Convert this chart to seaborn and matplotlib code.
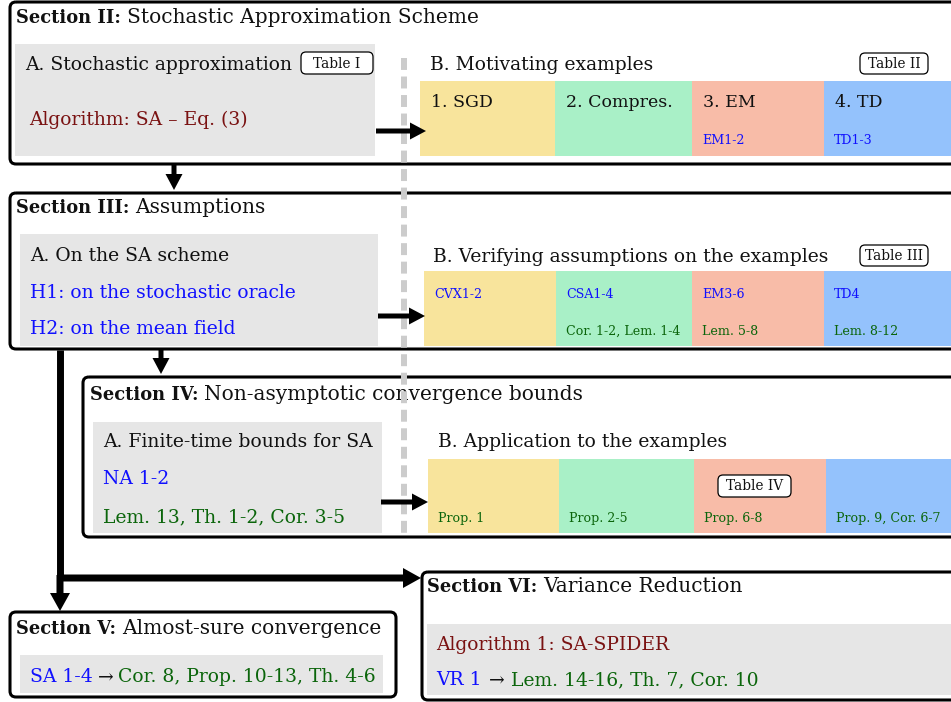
"""
Paper roadmap diagram (sections II-VI) redrawn with matplotlib / seaborn.
"""

import matplotlib.pyplot as plt
import seaborn as sns
from matplotlib.patches import FancyBboxPatch, Rectangle

sns.set_theme(style="white")
plt.rcParams["font.family"] = ["DejaVu Serif", "DejaVu Sans"]

# ── Content ────────────────────────────────────────────────────────────────
SECTION_NUMS  = ["Section II:", "Section III:", "Section IV:", "Section V:", "Section VI:"]
SECTION_NAMES = ["Stochastic Approximation Scheme", "Assumptions",
                 "Non-asymptotic convergence bounds", "Almost-sure convergence",
                 "Variance Reduction"]

PART_A_TITLES = ["A. Stochastic approximation", "A. On the SA scheme",
                 "A. Finite-time bounds for SA"]
PART_B_TITLES = ["B. Motivating examples", "B. Verifying assumptions on the examples",
                 "B. Application to the examples"]
TABLE_TAGS    = ["Table I", "Table II", "Table III", "Table IV"]

EXAMPLE_NAMES  = ["1. SGD", "2. Compres.", "3. EM", "4. TD"]
EXAMPLE_COLORS = ["#f8e49c", "#a9f0c7", "#f8bca8", "#94c2fc"]
ROW1_BLUE  = ["", "", "EM1-2", "TD1-3"]
ROW2_BLUE  = ["CVX1-2", "CSA1-4", "EM3-6", "TD4"]
ROW2_GREEN = ["", "Cor. 1-2, Lem. 1-4", "Lem. 5-8", "Lem. 8-12"]
ROW3_GREEN = ["Prop. 1", "Prop. 2-5", "Prop. 6-8", "Prop. 9, Cor. 6-7"]

ALGO_SA     = "Algorithm: SA – Eq. (3)"
ASSUMPTIONS = ["H1: on the stochastic oracle", "H2: on the mean field"]
NA_LABEL    = "NA 1-2"
NA_RESULTS  = "Lem. 13, Th. 1-2, Cor. 3-5"
AS_LABEL    = "SA 1-4"
AS_RESULTS  = "Cor. 8, Prop. 10-13, Th. 4-6"
ALGO_VR     = "Algorithm 1: SA-SPIDER"
VR_LABEL    = "VR 1"
VR_RESULTS  = "Lem. 14-16, Th. 7, Cor. 10"

BLACK, BLUE, GREEN, DARKRED = "#111111", "#1010ff", "#0b650b", "#7a1212"
GRAY = "#e6e6e6"

MAIN, MID, SMALL, TAG = 13.5, 12.5, 9.1, 9.8
HEAD_BOLD, HEAD_NAME = 12.9, 14.5

# ── Canvas: one data unit = one pixel ─────────────────────────────────────
fig = plt.figure(figsize=(9.51, 7.02), dpi=100)
ax = fig.add_axes([0, 0, 1, 1])
ax.set_xlim(0, 951)
ax.set_ylim(702, 0)
ax.axis("off")
renderer = fig.canvas.get_renderer()


def put_runs(x, y, parts, gap=5):
    for text, color, weight, size in parts:
        t = ax.text(x, y, text, color=color, fontsize=size, fontweight=weight,
                    ha="left", va="baseline")
        x += t.get_window_extent(renderer).width + gap


def section_box(x0, y0, x1, y1):
    ax.add_patch(FancyBboxPatch((x0, y0), x1 - x0, y1 - y0,
                                boxstyle="round,pad=0,rounding_size=6",
                                fc="none", ec="black", lw=2.2, zorder=3))


def gray_box(x0, y0, x1, y1):
    ax.add_patch(Rectangle((x0, y0), x1 - x0, y1 - y0, fc=GRAY, ec="none", zorder=1))


def tag(x0, y0, x1, y1, text):
    ax.add_patch(FancyBboxPatch((x0, y0), x1 - x0, y1 - y0,
                                boxstyle="round,pad=0,rounding_size=5",
                                fc="white", ec="black", lw=0.9, zorder=4))
    ax.text((x0 + x1) / 2, (y0 + y1) / 2 + 0.5, text, fontsize=TAG, color=BLACK,
            ha="center", va="center", zorder=5)


def strip(edges, y0, y1):
    for i, c in enumerate(EXAMPLE_COLORS):
        ax.add_patch(Rectangle((edges[i], y0), edges[i + 1] - edges[i], y1 - y0,
                               fc=c, ec="none", zorder=1))


def arrow(x0, y0, x1, y1, w=5, hw=17, hl=16):
    ax.arrow(x0, y0, x1 - x0, y1 - y0, width=w, head_width=hw, head_length=hl,
             length_includes_head=True, fc="black", ec="none", zorder=6)


# ── Section boxes ─────────────────────────────────────────────────────────
section_box(10, 2, 1000, 164)
section_box(10, 193, 1000, 349)
section_box(83, 377, 1000, 537)
section_box(10, 612, 396, 697)
section_box(422, 572, 1000, 700)

title_pos = [(16, 23), (16, 213), (90, 400), (16, 634), (427, 592)]
for (x, y), num, name in zip(title_pos, SECTION_NUMS, SECTION_NAMES):
    put_runs(x, y, [(num, BLACK, "bold", HEAD_BOLD),
                    (name, BLACK, "normal", HEAD_NAME)], gap=6)

# ── Part A panels ─────────────────────────────────────────────────────────
gray_box(15, 44, 375, 156)
gray_box(20, 234, 378, 346)
gray_box(93, 422, 382, 533)
gray_box(20, 655, 383, 693)
gray_box(427, 624, 1000, 695)

ax.text(25, 70, PART_A_TITLES[0], fontsize=MAIN, color=BLACK)
ax.text(29, 125, ALGO_SA, fontsize=MAIN, color=DARKRED)
ax.text(30, 261, PART_A_TITLES[1], fontsize=MAIN, color=BLACK)
ax.text(30, 298, ASSUMPTIONS[0], fontsize=MAIN, color=BLUE)
ax.text(30, 334, ASSUMPTIONS[1], fontsize=MAIN, color=BLUE)
ax.text(103, 447, PART_A_TITLES[2], fontsize=MAIN, color=BLACK)
ax.text(103, 484, NA_LABEL, fontsize=MAIN, color=BLUE)
ax.text(103, 522, NA_RESULTS, fontsize=MAIN, color=GREEN)
put_runs(30, 682, [(AS_LABEL, BLUE, "normal", MAIN), ("→", BLACK, "normal", MAIN),
                   (AS_RESULTS, GREEN, "normal", MAIN)])
ax.text(436, 650, ALGO_VR, fontsize=MAIN, color=DARKRED)
put_runs(436, 685, [(VR_LABEL, BLUE, "normal", MAIN), ("→", BLACK, "normal", MAIN),
                    (VR_RESULTS, GREEN, "normal", MAIN)], gap=7)

# ── Part B: examples ──────────────────────────────────────────────────────
ax.text(430, 70, PART_B_TITLES[0], fontsize=MAIN, color=BLACK)
ax.text(433, 262, PART_B_TITLES[1], fontsize=MAIN, color=BLACK)
ax.text(438, 447, PART_B_TITLES[2], fontsize=MAIN, color=BLACK)

e1 = [420, 555, 692, 824, 1000]
e2 = [424, 556, 692, 824, 1000]
e3 = [428, 559, 694, 826, 1000]
strip(e1, 81, 156)
strip(e2, 271, 346)
strip(e3, 459, 533)

for i in range(4):
    ax.text(e1[i] + 11, 107, EXAMPLE_NAMES[i], fontsize=MID, color=BLACK, zorder=2)
    ax.text(e1[i] + 10, 144, ROW1_BLUE[i], fontsize=SMALL, color=BLUE, zorder=2)
    ax.text(e2[i] + 10, 298, ROW2_BLUE[i], fontsize=SMALL, color=BLUE, zorder=2)
    ax.text(e2[i] + 10, 335, ROW2_GREEN[i], fontsize=SMALL, color=GREEN, zorder=2)
    ax.text(e3[i] + 10, 522, ROW3_GREEN[i], fontsize=SMALL, color=GREEN, zorder=2)

tag(301, 52, 373, 74, TABLE_TAGS[0])
tag(860, 53, 928, 74, TABLE_TAGS[1])
tag(860, 245, 928, 266, TABLE_TAGS[2])
tag(718, 475, 791, 497, TABLE_TAGS[3])

# ── Separator between parts A and B ───────────────────────────────────────
ax.plot([404, 404], [58, 539], color="#cccccc", lw=4.3, dashes=(2.0, 1.1),
        solid_capstyle="butt", zorder=5)

# ── Arrows ────────────────────────────────────────────────────────────────
arrow(376, 131, 426, 131)
arrow(378, 316, 425, 316)
arrow(381, 502, 428, 502)
arrow(174, 164, 174, 190)
arrow(161, 350, 161, 374)

ax.plot([60, 60], [350, 578], color="black", lw=5.0, solid_capstyle="butt", zorder=6)
arrow(57, 578, 421, 578, w=7, hw=20, hl=18)
arrow(60, 575, 60, 611, w=7, hw=20, hl=18)

fig.savefig("out.png", dpi=100)
